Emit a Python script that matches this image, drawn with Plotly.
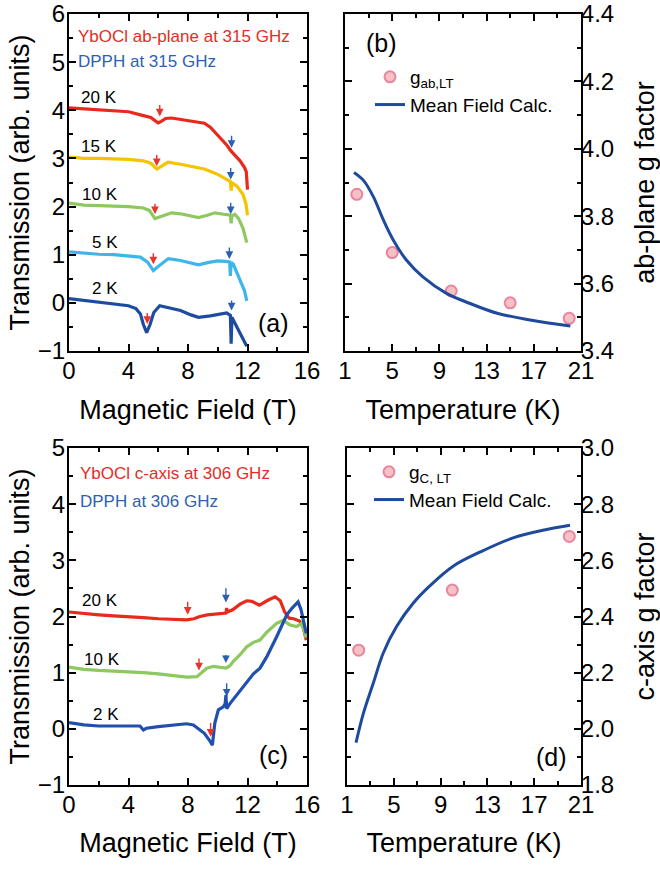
import plotly.graph_objects as go

W, H = 660, 869
FONT = "Arial, Liberation Sans, sans-serif"

# ---------------- Panel (a): ab-plane spectra at 315 GHz ----------------
a20_x = [0, 1, 2, 3, 4, 5, 5.5, 5.8, 6.0, 6.2, 6.5, 6.9, 7.5, 8.5, 9.1, 9.5, 9.8, 10.2, 10.6, 10.9, 11.2, 11.5, 11.8, 11.92, 12.0]
a20_y = [4.05, 4.03, 4.02, 4.0, 3.97, 3.89, 3.85, 3.78, 3.74, 3.77, 3.83, 3.84, 3.81, 3.77, 3.73, 3.65, 3.55, 3.42, 3.28, 3.15, 3.05, 2.95, 2.81, 2.72, 2.35]
a15_x = [0, 1, 2, 3, 4, 5, 5.5, 5.9, 6.2, 6.65, 7.5, 8.5, 9.1, 9.6, 10.0, 10.5, 10.85, 10.9, 10.95, 11.3, 11.7, 11.9, 12.0]
a15_y = [3.03, 3.0, 3.0, 2.99, 2.98, 2.95, 2.9, 2.78, 2.84, 2.92, 2.88, 2.82, 2.78, 2.72, 2.67, 2.58, 2.52, 2.33, 2.5, 2.42, 2.25, 2.05, 1.82]
a10_x = [0, 1, 2, 3, 4, 5, 5.4, 5.78, 6.2, 6.9, 7.5, 8.2, 8.7, 9.3, 9.8, 10.4, 10.85, 10.9, 10.95, 11.15, 11.4, 11.7, 11.95]
a10_y = [2.07, 2.03, 2.02, 2.01, 2.0, 1.97, 1.92, 1.75, 1.8, 1.87, 1.85, 1.8, 1.77, 1.82, 1.87, 1.84, 1.82, 1.65, 1.8, 1.84, 1.75, 1.55, 1.25]
a5_x = [0, 1, 2, 3, 4, 4.8, 5.3, 5.67, 6.1, 6.68, 7.5, 8.2, 8.7, 9.4, 10.0, 10.5, 10.8, 10.85, 10.9, 11.05, 11.3, 11.6, 11.8, 11.95]
a5_y = [1.06, 1.03, 1.01, 1.0, 0.98, 0.95, 0.84, 0.67, 0.78, 0.92, 0.88, 0.82, 0.79, 0.84, 0.87, 0.86, 0.85, 0.56, 0.84, 0.8, 0.62, 0.42, 0.25, 0.04]
a2_x = [0, 1, 2, 3, 4, 4.5, 4.8, 5.0, 5.22, 5.45, 5.7, 6.1, 6.6, 7.5, 8.2, 8.7, 9.5, 10.27, 10.6, 10.85, 10.9, 10.95, 11.2, 11.6, 11.95]
a2_y = [0.09, 0.05, 0.02, -0.02, -0.06, -0.12, -0.23, -0.45, -0.62, -0.45, -0.2, -0.06, -0.1, -0.16, -0.25, -0.3, -0.27, -0.23, -0.21, -0.26, -0.85, -0.3, -0.45, -0.67, -0.9]

a_temp_labels = ["20 K", "15 K", "10 K", "5 K", "2 K"]
a_label_x = [2.0, 2.0, 2.1, 2.4, 2.4]
a_label_y = [4.26, 3.25, 2.25, 1.26, 0.29]

a_red_arrow_x = [6.1, 5.9, 5.78, 5.67, 5.26]
a_red_arrow_tail = [4.14, 3.10, 2.09, 1.06, -0.18]
a_red_arrow_head = [3.87, 2.84, 1.84, 0.80, -0.44]
a_blue_arrow_x = [10.93, 10.87, 10.87, 10.78, 10.93]
a_blue_arrow_tail = [3.50, 2.83, 2.11, 1.18, 0.08]
a_blue_arrow_head = [3.22, 2.56, 1.84, 0.91, -0.16]

# ---------------- Panel (b): ab-plane g factor ----------------
b_T = [2, 5, 10, 15, 20]
b_g = [3.865, 3.692, 3.578, 3.543, 3.497]
b_calc_T = [1.76, 2.55, 3.4, 4.25, 5.1, 6.2, 7.6, 9.6, 11.6, 13.9, 16.7, 20.1]
b_calc_g = [3.93, 3.907, 3.858, 3.789, 3.729, 3.67, 3.62, 3.571, 3.541, 3.512, 3.492, 3.474]

# ---------------- Panel (c): c-axis spectra at 306 GHz ----------------
c20_x = [0, 1, 2, 3, 4, 5, 6, 7, 7.9, 8.4, 8.8, 9.3, 9.7, 10.2, 10.55, 10.6, 10.65, 11.0, 11.5, 11.95, 12.3, 12.8, 13.3, 13.85, 14.2, 14.5, 14.8, 15.1, 15.5, 15.75, 15.95]
c20_y = [2.08, 2.05, 2.03, 2.01, 2.0, 1.98, 1.96, 1.95, 1.94, 1.96, 2.0, 2.03, 2.04, 2.05, 2.06, 2.15, 2.08, 2.12, 2.22, 2.28, 2.27, 2.2, 2.28, 2.35, 2.28, 2.08, 1.97, 1.96, 1.92, 1.8, 1.58]
c10_x = [0, 1, 2, 3, 4, 5, 6, 7, 7.9, 8.6, 8.9, 9.26, 9.7, 10.2, 10.55, 10.8, 11.05, 11.5, 11.95, 12.4, 12.84, 13.3, 13.96, 14.4, 14.86, 15.3, 15.64, 15.95]
c10_y = [1.1, 1.06, 1.04, 1.03, 1.02, 1.0, 0.98, 0.95, 0.92, 0.93, 1.0, 1.08, 1.11, 1.09, 1.08, 1.12, 1.2, 1.32, 1.46, 1.54, 1.58, 1.72, 1.88, 1.93, 1.85, 1.82, 1.88, 1.62]
c2_x = [0, 1, 2, 3, 4, 4.77, 5.0, 5.2, 6.0, 7.0, 7.9, 8.36, 8.8, 9.1, 9.48, 9.64, 9.8, 10.04, 10.37, 10.5, 10.55, 10.6, 10.82, 11.4, 11.95, 12.4, 12.84, 13.29, 13.96, 14.64, 15.0, 15.4, 15.6, 15.8, 15.95]
c2_y = [0.11, 0.07, 0.05, 0.05, 0.05, 0.05, -0.02, 0.01, 0.04, 0.06, 0.09, 0.07, -0.02, -0.08, -0.22, -0.29, 0.1, 0.34, 0.39, 0.45, 0.6, 0.36, 0.45, 0.65, 0.84, 0.98, 1.08, 1.28, 1.64, 2.03, 2.15, 2.26, 2.12, 1.9, 1.7]

c_temp_labels = ["20 K", "10 K", "2 K"]
c_label_x = [2.1, 2.2, 2.5]
c_label_y = [2.29, 1.23, 0.25]

c_red_arrow_x = [7.98, 8.74, 9.52]
c_red_arrow_tail = [2.29, 1.28, 0.13]
c_red_arrow_head = [2.03, 1.04, -0.14]
c_blue_arrow_x = [10.55, 10.55, 10.6]
c_blue_arrow_tail = [2.53, 1.34, 0.84]
c_blue_arrow_head = [2.25, 1.17, 0.57]

# ---------------- Panel (d): c-axis g factor ----------------
d_T = [2, 10, 20]
d_g = [2.28, 2.494, 2.685]
d_calc_T = [1.77, 2.4, 3.25, 4.1, 5.25, 6.67, 8.1, 10.1, 12.4, 15.2, 18.07, 20.06]
d_calc_g = [1.951, 2.055, 2.163, 2.27, 2.365, 2.448, 2.51, 2.58, 2.63, 2.68, 2.71, 2.725]

# ---------------- Styles ----------------
RED = "#e8291c"
YELLOW = "#f5c400"
GREEN = "#8dc860"
LBLUE = "#3db6ea"
DBLUE = "#1d4b9f"
CBLUE = "#1f50b0"
CALC = "#1f4a9c"
ARROW_RED = "#e8342a"
ARROW_BLUE = "#2c5fb0"
PT_FILL = "#f6c1c4"
PT_LINE = "#e8869f"


def px_x(px):
    return px / W


def px_y(py):
    return 1 - py / H


fig = go.Figure()

def spec(x, y, color, xa, ya):
    fig.add_trace(go.Scatter(x=x, y=y, mode="lines", line=dict(color=color, width=3.2),
                             xaxis=xa, yaxis=ya, showlegend=False, hoverinfo="skip"))

for xs, ys, col in [(a20_x, a20_y, RED), (a15_x, a15_y, YELLOW), (a10_x, a10_y, GREEN),
                    (a5_x, a5_y, LBLUE), (a2_x, a2_y, DBLUE)]:
    spec(xs, ys, col, "x", "y")
for xs, ys, col in [(c20_x, c20_y, RED), (c10_x, c10_y, GREEN), (c2_x, c2_y, CBLUE)]:
    spec(xs, ys, col, "x3", "y3")

marker = dict(size=11, color=PT_FILL, line=dict(color=PT_LINE, width=2))
fig.add_trace(go.Scatter(x=b_T, y=b_g, mode="markers", marker=marker, name="g<sub>ab,LT</sub>",
                         xaxis="x2", yaxis="y2", legend="legend"))
fig.add_trace(go.Scatter(x=b_calc_T, y=b_calc_g, mode="lines", line=dict(color=CALC, width=3, shape="spline"),
                         name="Mean Field Calc.", xaxis="x2", yaxis="y2", legend="legend"))
fig.add_trace(go.Scatter(x=d_T, y=d_g, mode="markers", marker=marker, name="g<sub>C, LT</sub>",
                         xaxis="x4", yaxis="y4", legend="legend2"))
fig.add_trace(go.Scatter(x=d_calc_T, y=d_calc_g, mode="lines", line=dict(color=CALC, width=3, shape="spline"),
                         name="Mean Field Calc.", xaxis="x4", yaxis="y4", legend="legend2"))

annotations = []
def arrows(xs, tails, heads, color, xr, yr):
    for x, t, h in zip(xs, tails, heads):
        annotations.append(dict(x=x, y=h, ax=x, ay=t, xref=xr, yref=yr, axref=xr, ayref=yr,
                                showarrow=True, arrowhead=2, arrowsize=1.1, arrowwidth=1.4,
                                arrowcolor=color, text=""))

arrows(a_red_arrow_x, a_red_arrow_tail, a_red_arrow_head, ARROW_RED, "x", "y")
arrows(a_blue_arrow_x, a_blue_arrow_tail, a_blue_arrow_head, ARROW_BLUE, "x", "y")
arrows(c_red_arrow_x, c_red_arrow_tail, c_red_arrow_head, ARROW_RED, "x3", "y3")
arrows(c_blue_arrow_x, c_blue_arrow_tail, c_blue_arrow_head, ARROW_BLUE, "x3", "y3")

for t, x, y in zip(a_temp_labels, a_label_x, a_label_y):
    annotations.append(dict(x=x, y=y, xref="x", yref="y", text=t, showarrow=False,
                            font=dict(size=17, color="black", family=FONT)))
for t, x, y in zip(c_temp_labels, c_label_x, c_label_y):
    annotations.append(dict(x=x, y=y, xref="x3", yref="y3", text=t, showarrow=False,
                            font=dict(size=17, color="black", family=FONT)))

def ptext(text, px, py, size, color="black", xanchor="left"):
    annotations.append(dict(x=px_x(px), y=px_y(py), xref="paper", yref="paper", text=text,
                            showarrow=False, xanchor=xanchor, yanchor="middle",
                            font=dict(size=size, color=color, family=FONT)))

ptext("YbOCl ab-plane at 315 GHz", 76, 37, 17, "#e62b25")
ptext("DPPH at 315 GHz", 76, 61, 17, "#2e5fb5")
ptext("YbOCl c-axis at 306 GHz", 78, 473, 17, "#e62b25")
ptext("DPPH at 306 GHz", 78, 501, 17, "#2e5fb5")
ptext("(a)", 273, 323, 25, xanchor="center")
ptext("(b)", 382, 43, 25, xanchor="center")
ptext("(c)", 273, 755, 25, xanchor="center")
ptext("(d)", 551, 757, 25, xanchor="center")

tickfont = dict(size=24, color="black", family=FONT)
titlefont = dict(size=27, color="black", family=FONT)

def axis(domain, rng, dtick, mdtick, tick0=0, title=None, standoff=10, side=None, anchor=None,
         fmt=None, labelshift=-3):
    d = dict(domain=domain, range=rng, dtick=dtick, tick0=tick0, ticks="inside", ticklen=7, tickwidth=2,
             tickcolor="black", showline=True, linewidth=2, linecolor="black", mirror="allticks",
             showgrid=False, zeroline=False, tickfont=tickfont, automargin=True, ticklabeloverflow="allow",
             ticklabelstandoff=labelshift,
             minor=dict(ticks="inside", ticklen=4, tickwidth=2, tickcolor="black", dtick=mdtick, tick0=tick0, showgrid=False))
    if title:
        d["title"] = dict(text=title, font=titlefont, standoff=standoff)
    if side:
        d["side"] = side
    if anchor:
        d["anchor"] = anchor
    if fmt:
        d["tickformat"] = fmt
    return d

top = [px_y(351), px_y(14)]
bot = [px_y(785), px_y(448)]

fig.update_layout(
    width=W, height=H, margin=dict(l=0, r=0, t=0, b=0, autoexpand=False),
    paper_bgcolor="white", plot_bgcolor="white", font=dict(family=FONT, color="black"),
    xaxis=axis([px_x(69), px_x(307)], [0, 16], 4, 2, title="Magnetic Field (T)", standoff=17, anchor="y"),
    yaxis=axis(top, [-1, 6], 1, 0.5, title="Transmission (arb. units)", standoff=0, anchor="x"),
    xaxis2=axis([px_x(345), px_x(581)], [1, 21], 4, 2, tick0=1, title="Temperature (K)", standoff=17, anchor="y2"),
    yaxis2=axis(top, [3.4, 4.4], 0.2, 0.1, tick0=3.4, title="ab-plane g factor", standoff=25, side="right",
                anchor="x2", fmt=".1f", labelshift=-7),
    xaxis3=axis([px_x(69), px_x(307)], [0, 16], 4, 2, title="Magnetic Field (T)", standoff=16, anchor="y3"),
    yaxis3=axis(bot, [-1, 5], 1, 0.5, title="Transmission (arb. units)", standoff=0, anchor="x3"),
    xaxis4=axis([px_x(347), px_x(581)], [1, 21], 4, 2, tick0=1, title="Temperature (K)", standoff=16, anchor="y4"),
    yaxis4=axis(bot, [1.8, 3.0], 0.2, 0.1, tick0=1.8, title="c-axis g factor", standoff=25, side="right",
                anchor="x4", fmt=".1f", labelshift=-7),
    legend=dict(x=px_x(370), y=px_y(58), xanchor="left", yanchor="top", bgcolor="rgba(0,0,0,0)",
                font=dict(size=19, family=FONT, color="black"), tracegroupgap=0),
    legend2=dict(x=px_x(369), y=px_y(453), xanchor="left", yanchor="top", bgcolor="rgba(0,0,0,0)",
                 font=dict(size=19, family=FONT, color="black"), tracegroupgap=0),
    annotations=annotations,
)

# remove the default 8 px page margin so the figure sits at the window's top-left corner
fig.write_html("out.html", config={"displayModeBar": False},
               post_script="document.body.style.margin='0px';")
